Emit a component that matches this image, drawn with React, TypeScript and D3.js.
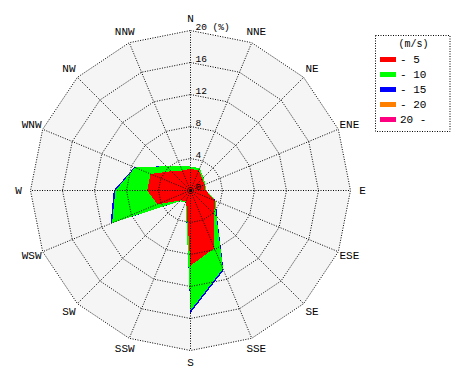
import React from "react";
import * as d3 from "d3";

const directions = ["N", "NNE", "NE", "ENE", "E", "ESE", "SE", "SSE", "S", "SSW", "SW", "WSW", "W", "WNW", "NW", "NNW"];
// percent frequency per speed class (m/s)
const speed0to5 = [2.7, 2.75, 2.1, 1.9, 1.9, 3.3, 4.2, 7.8, 9.4, 1.4, 1.75, 4.5, 5.4, 5.4, 3.4, 2.7];
const speed5to10 = [0.3, 0.25, 0.2, 0.1, 0.1, 0.1, 0.4, 2.8, 5.6, 0.2, 0.15, 6.1, 4.0, 2.1, 0.9, 0.6];
const speed10to15 = [0, 0, 0, 0, 0, 0.05, 0.1, 0.2, 0.3, 0, 0, 0.2, 0.2, 0.1, 0, 0];
const speed15to20 = [0, 0, 0, 0, 0, 0, 0, 0, 0, 0, 0, 0, 0, 0, 0, 0];
const speedOver20 = [0, 0, 0, 0, 0, 0, 0, 0, 0, 0, 0, 0, 0, 0, 0, 0];

const speedClasses = ["- 5", "- 10", "- 15", "- 20", "20 -"];
const classColors = ["#ff0000", "#00ff00", "#0000ff", "#ff8000", "#ff0080"];
const ringTicks = [0, 4, 8, 12, 16, 20];

export default function App() {
  const cx = 190.5;
  const cy = 190.5;
  const r = d3.scaleLinear().domain([0, 20]).range([0, 160]);
  const angle = (i: number) => (i * 2 * Math.PI) / directions.length;

  const series = [speed0to5, speed5to10, speed10to15, speed15to20, speedOver20];
  const cumulative: number[][] = [];
  series.forEach((s, k) => {
    cumulative.push(s.map((v, i) => v + (k > 0 ? cumulative[k - 1][i] : 0)));
  });

  const radial = d3
    .lineRadial<number>()
    .angle((_, i) => angle(i))
    .radius((d) => r(d))
    .curve(d3.curveLinearClosed);

  const ringPath = (v: number) => radial(directions.map(() => v)) as string;
  const dot = { stroke: "#000", strokeWidth: 1, strokeDasharray: "1,1.5", fill: "none" } as const;
  const font = "'Liberation Mono', 'DejaVu Sans Mono', monospace";

  return (
    <div style={{ position: "absolute", left: 0, top: 0 }}>
      <svg width={470} height={380} style={{ display: "block", background: "#fff" }}>
        <g transform={`translate(${cx},${cy})`}>
          <path d={ringPath(20)} fill="#f5f5f5" />
          {cumulative
            .map((c, k) => ({ c, k }))
            .reverse()
            .map(({ c, k }) => (
              <path key={k} d={radial(c) as string} fill={classColors[k]} shapeRendering="crispEdges" />
            ))}
          {ringTicks.slice(1).map((t) => (
            <path key={t} d={ringPath(t)} style={dot} />
          ))}
          {directions.map((d, i) => {
            const a = angle(i);
            return (
              <line
                key={d}
                x1={0}
                y1={0}
                x2={r(20) * Math.sin(a)}
                y2={-r(20) * Math.cos(a)}
                style={dot}
              />
            );
          })}
          <circle r={1.5} fill="#000" />
          {ringTicks.map((t) => (
            <text key={t} x={5} y={-r(t) - 1} fontFamily={font} fontSize={9.5} fill="#000">
              {t === 20 ? "20 (%)" : String(t)}
            </text>
          ))}
          {directions.map((d, i) => {
            const a = angle(i);
            const lr = 172;
            return (
              <text
                key={d}
                x={lr * Math.sin(a)}
                y={-lr * Math.cos(a)}
                textAnchor="middle"
                dominantBaseline="central"
                fontFamily={font}
                fontSize={11}
                fill="#000"
              >
                {d}
              </text>
            );
          })}
        </g>
        <g transform="translate(375.5,35.5)">
          <rect width={74.5} height={96} fill="#f5f5f5" style={dot} />
          <text x={38} y={9} textAnchor="middle" dominantBaseline="central" fontFamily={font} fontSize={10}>
            (m/s)
          </text>
          {speedClasses.map((s, k) => (
            <g key={s} transform={`translate(0,${24 + k * 15})`}>
              <rect x={4.5} y={-2.5} width={16} height={5} fill={classColors[k]} />
              <text x={24.5} y={0} dominantBaseline="central" fontFamily={font} fontSize={11}>
                {s}
              </text>
            </g>
          ))}
        </g>
      </svg>
    </div>
  );
}
